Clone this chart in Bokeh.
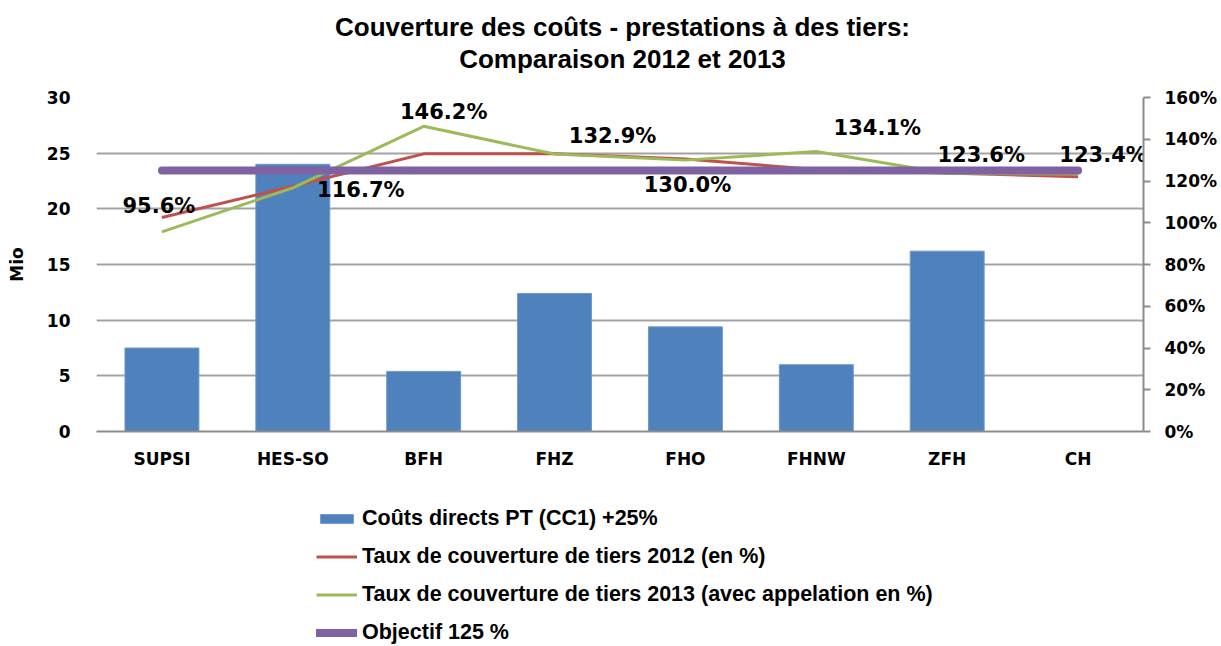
from bokeh.plotting import figure
from bokeh.layouts import column
from bokeh.models import (Range1d, LinearAxis, FactorRange, Legend, LegendItem,
                          ColumnDataSource, Label, FixedTicker, PrintfTickFormatter)
from bokeh.core.properties import value
from bokeh.embed import file_html
from bokeh.resources import INLINE

# ---- data ----
categories = ["SUPSI", "HES-SO", "BFH", "FHZ", "FHO", "FHNW", "ZFH", "CH"]
couts_directs = [7.5, 24.0, 5.4, 12.4, 9.4, 6.0, 16.2, 0.0]          # Mio
taux_2012 = [102.5, 117.5, 133.0, 133.0, 130.5, 125.5, 123.8, 122.0]   # %
taux_2013 = [95.6, 116.7, 146.2, 132.9, 130.0, 134.1, 123.6, 123.4]    # %
objectif = [125, 125, 125, 125, 125, 125, 125, 125]                    # %
left_ticks = [0, 5, 10, 15, 20, 25, 30]
right_ticks = [0, 20, 40, 60, 80, 100, 120, 140, 160]
title_lines = ["Couverture des coûts - prestations à des tiers:", "Comparaison 2012 et 2013"]
legend_labels = ["Coûts directs PT (CC1) +25%",
                 "Taux de couverture de tiers 2012 (en %)",
                 "Taux de couverture de tiers 2013 (avec appelation en %)",
                 "Objectif 125 %"]

# label placement (pixel offsets from each point, styling only)
label_dx = [-3, 68, 20, 58, 2, 61, 34, 25]
label_dy = [-26, 2, -14, -18, 25, -24, -18, -19]

BLUE = "#4F81BD"
RED = "#C0504D"
GREEN = "#9BBB59"
PURPLE = "#7E62A1"
GRID = "#A3A3A3"
W = 1221
TITLE_H = 85
MAIN_H = 400
LEG_H = 646 - TITLE_H - MAIN_H
FRAME_L, FRAME_R = 96, 1143


def bare(fig):
    fig.outline_line_color = None
    fig.background_fill_color = "white"
    fig.border_fill_color = "white"
    fig.xgrid.visible = False
    fig.ygrid.visible = False
    return fig


# ---- title strip (frame is aligned with the chart frame by the column layout) ----
pt = bare(figure(width=W, height=TITLE_H, x_range=Range1d(FRAME_L, FRAME_R),
                 y_range=Range1d(TITLE_H, 0),
                 x_axis_location=None, y_axis_location=None, output_backend="svg",
                 toolbar_location=None, min_border=0, min_border_left=0, min_border_right=0,
                 min_border_top=0, min_border_bottom=0))
for txt, ty in zip(title_lines, [26, 58]):
    pt.add_layout(Label(x=622, y=ty, text=txt, text_align="center", text_baseline="middle",
                        text_font="Liberation Sans", text_font_size="26px",
                        text_font_style="bold", text_color="black"))

# ---- main chart ----
src = ColumnDataSource(dict(
    cat=categories, couts=couts_directs, t12=taux_2012, t13=taux_2013, obj=objectif,
    lab=[f"{v:.1f}%" for v in taux_2013], dx=label_dx, dy=label_dy,
))

p = figure(x_range=FactorRange(*categories), y_range=Range1d(0, 30),
           width=W, height=MAIN_H, output_backend="svg", toolbar_location=None,
           min_border_left=FRAME_L, min_border_right=W - FRAME_R,
           min_border_top=12, min_border_bottom=54)
p.extra_y_ranges = {"pct": Range1d(0, 160)}
p.outline_line_color = None
p.background_fill_color = "white"
p.border_fill_color = "white"

bars = p.vbar(x="cat", top="couts", width=0.565, source=src,
              fill_color=BLUE, line_color="#6F98CC", line_width=1)
l12 = p.line(x="cat", y="t12", source=src, y_range_name="pct", line_color=RED, line_width=3)
l13 = p.line(x="cat", y="t13", source=src, y_range_name="pct", line_color=GREEN, line_width=3)
lobj = p.line(x="cat", y="obj", source=src, y_range_name="pct", line_color=PURPLE,
              line_width=8, line_cap="round")
p.text(x="cat", y="t13", text="lab", source=src, y_range_name="pct",
       x_offset="dx", y_offset="dy", text_align="center", text_baseline="middle",
       text_font=value("DejaVu Sans"), text_font_style="bold", text_font_size="21px",
       text_color="black")

yl = p.yaxis[0]
yl.ticker = FixedTicker(ticks=left_ticks)
yl.axis_line_color = None
yl.major_tick_line_color = None
yl.minor_tick_line_color = None
yl.major_label_standoff = 20
yl.major_label_text_font = "DejaVu Sans"
yl.major_label_text_font_style = "bold"
yl.major_label_text_font_size = "17px"
yl.major_label_text_color = "black"
yl.axis_label = "Mio"
yl.axis_label_text_font = "DejaVu Sans"
yl.axis_label_text_font_style = "bold"
yl.axis_label_text_font_size = "17px"
yl.axis_label_text_color = "black"
yl.axis_label_standoff = 17

yr = LinearAxis(y_range_name="pct", ticker=FixedTicker(ticks=right_ticks),
                formatter=PrintfTickFormatter(format="%d%%"))
yr.axis_line_color = "#8C8C8C"
yr.axis_line_width = 2
yr.major_tick_line_color = "#8C8C8C"
yr.major_tick_line_width = 2
yr.major_tick_out = 7
yr.major_tick_in = 0
yr.minor_tick_line_color = None
yr.major_label_standoff = 14
yr.major_label_text_font = "DejaVu Sans"
yr.major_label_text_font_style = "bold"
yr.major_label_text_font_size = "17px"
yr.major_label_text_color = "black"
p.add_layout(yr, "right")

xa = p.xaxis[0]
xa.axis_line_color = "#8C8C8C"
xa.axis_line_width = 2
xa.major_tick_line_color = None
xa.minor_tick_line_color = None
xa.major_label_standoff = 11
xa.major_label_text_font = "DejaVu Sans"
xa.major_label_text_font_style = "bold"
xa.major_label_text_font_size = "17px"
xa.major_label_text_color = "black"

p.xgrid.grid_line_color = None
p.ygrid.grid_line_color = GRID
p.ygrid.grid_line_width = 2

# ---- legend strip (proxy renderers styled like the chart's, drawn outside the view) ----
pl = bare(figure(width=W, height=LEG_H, x_range=Range1d(0, 1), y_range=Range1d(0, 1),
                 x_axis_location=None, y_axis_location=None, output_backend="svg",
                 toolbar_location=None, min_border=0, min_border_left=0, min_border_right=0,
                 min_border_top=0, min_border_bottom=0))
proxy = ColumnDataSource(dict(x=[-3, -2], y=[-3, -2]))
g_bar = pl.vbar(x="x", top="y", width=0.5, source=proxy, fill_color=BLUE, line_color="#6F98CC")
g_12 = pl.line(x="x", y="y", source=proxy, line_color=RED, line_width=3)
g_13 = pl.line(x="x", y="y", source=proxy, line_color=GREEN, line_width=3)
g_obj = pl.line(x="x", y="y", source=proxy, line_color=PURPLE, line_width=8, line_cap="round")

legend = Legend(items=[LegendItem(label=lab, renderers=[r]) for lab, r in
                       zip(legend_labels, [g_bar, g_12, g_13, g_obj])],
                location=(220, 1), orientation="vertical")
legend.border_line_color = None
legend.background_fill_alpha = 0
legend.padding = 0
legend.margin = 0
legend.spacing = 13
legend.glyph_width = 41
legend.glyph_height = 11
legend.label_height = 24
legend.label_standoff = 5
legend.label_text_font = "Liberation Sans"
legend.label_text_font_style = "bold"
legend.label_text_font_size = "21.5px"
legend.label_text_color = "black"
pl.add_layout(legend, "center")

layout = column(pt, p, pl, spacing=0)
open("out.html", "w").write(file_html(layout, INLINE))
